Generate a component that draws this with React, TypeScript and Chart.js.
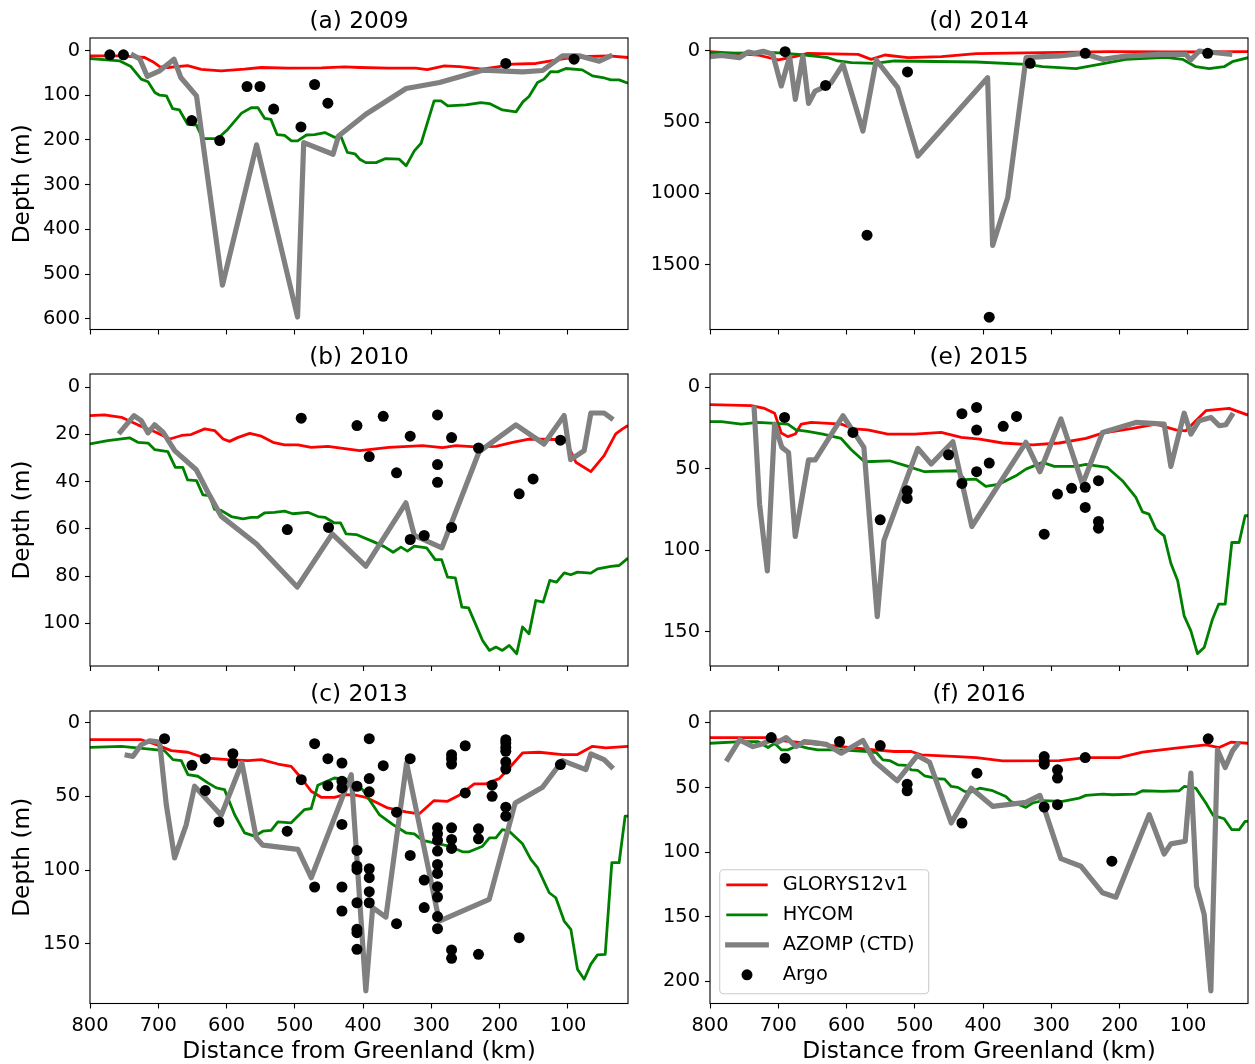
import React, { useEffect, useRef } from 'react';
import { Chart, registerables } from 'chart.js';

Chart.register(...registerables);

type Pt = [number, number];

// ---------- x axis (distance from Greenland, km) ----------
const xTicks = [100, 200, 300, 400, 500, 600, 700, 800];
const xMin = 12;
const xMax = 800;

// ---------- (a) 2009 ----------
const glorys2009: Pt[] = [[800,12],[754,12],[720,15.6],[708,25],[698,36],[686,38],[657,34],[637,42],[608,45.5],[574,41.7],[549,38],[510,39.5],[461,38.7],[427,36.5],[405,38],[362,39.5],[323,39.5],[306,42.5],[281,34.3],[259,35.8],[225,41.7],[201,35.8],[181,30.5],[147,29],[127,23.8],[103,17.8],[69,13.4],[40,11.9],[12,15.6]];
const hycom2009: Pt[] = [[800,17.8],[757,23],[740,35.8],[725,64],[715,70],[705,94],[698,100],[688,101.4],[679,130],[669,133],[657,165],[644,167],[635,197],[613,197],[598,176],[578,140],[564,128],[554,128],[544,152],[535,154],[526,188],[515,190],[505,202],[496,202],[483,189],[471,188],[456,183.5],[442,194],[432,194],[423,228],[412,231],[405,243],[396,250.7],[381,250.7],[367,241.7],[347,243],[337,258],[325,224.5],[315,207.4],[296,112.6],[286,112.6],[276,124],[249.5,121.6],[227.5,116.4],[215,118.6],[196,132.8],[176,137.3],[166,114.9],[157,102.9],[144.5,71.6],[135,64],[125,47],[115,47.7],[103,40.2],[79,43.2],[64,56.7],[49,60.4],[37,65.6],[25,65.6],[12,73]];
const azomp2009: Pt[] = [[740,8],[727,19],[716,58],[698,45.5],[677,19.3],[667,60.4],[644,101.4],[606,525],[556,211],[496,596],[487,206],[444,232],[436,191],[396,142.5],[337,85],[288,71.6],[225,44],[166.5,47.7],[137,44.7],[108,11.9],[83.5,11.9],[69,17.8],[54,23.8],[35,10.4]];
const argo2009: Pt[] = [[771,9.6],[751,9.6],[651,156.7],[610,201.4],[570,80.5],[551,80.5],[531,131],[491,170.8],[471,76],[451.6,117.9],[191,29],[91,19.3]];
const yTicks2009 = [0, 100, 200, 300, 400, 500, 600];

// ---------- (b) 2010 ----------
const glorys2010: Pt[] = [[800,12.1],[779,11.8],[754,12.8],[730,16],[705,18.9],[683,22],[666,20.5],[652,20.1],[632,17.7],[617.5,18.4],[605,22],[595.6,23],[583,21.3],[566,19.6],[549,20.8],[532,23.4],[515,24.5],[495.5,24.5],[476,25.5],[451.6,25.1],[405,26.9],[362,25.5],[313,24.8],[283.6,25.6],[264,24.8],[235,25.3],[205.5,25.1],[181,23.4],[157,22],[118,22.2],[103,22.7],[88.4,31.8],[66.4,35.8],[47,29],[30,19.8],[20,17.7],[12,16.3]];
const hycom2010: Pt[] = [[800,24.1],[774,22.7],[742,21.5],[730,23.4],[715,23.7],[705,26.5],[686,27.3],[675,34],[664,34],[657,39.3],[644,39.6],[634.6,45.6],[625,45.9],[617.5,51.8],[608,52.2],[593,54.8],[576,55.8],[564,55.1],[554,55.1],[544,53.2],[530,53],[515,52.5],[503,53.6],[481,53],[466,54.8],[456,55.1],[442,57.5],[433,57.5],[425,62.1],[410,62.4],[386,65.3],[369,67.5],[356,69.9],[344.6,67.7],[335,69.4],[325,67.3],[307,68],[294.4,73],[285,73],[276.3,80.4],[265,80.7],[255.3,93.1],[245.5,93.4],[225,107.2],[215,111.4],[205.5,110],[196,111.4],[186,109.3],[175,112.8],[166.5,101.5],[157,104.4],[147,90.3],[136.2,91],[126.5,81.8],[116.7,82.5],[105.5,78.6],[95.7,79.4],[86,78.3],[66.4,78.7],[56.7,76.9],[37,75.9],[25,75.5],[12,72.4]];
const azomp2010: Pt[] = [[758,19.8],[735.6,12.1],[725,14.2],[715,19.4],[705.4,16],[693,19.1],[676,26.9],[644.4,35],[627.3,44.5],[608,54.6],[556.5,66.3],[496.5,84.6],[445.3,62.1],[396,75.8],[337.3,49],[325,62.8],[284.6,68],[230,27.3],[176.2,16],[135,24.1],[105.5,12.1],[96,30.7],[76.2,26.9],[66.4,11],[47,11],[33.7,13.8]];
const argo2010: Pt[] = [[490.6,13.2],[409,16.3],[511,60.3],[450.6,59.4],[391,29.4],[370.5,12.4],[351,36.3],[331,20.8],[291,11.8],[291,32.8],[291,40.3],[270.4,21.4],[231,25.8],[331,64.5],[310.5,62.8],[270.4,59.4],[171.4,45.2],[151,38.9],[111,22.5]];
const yTicks2010 = [0, 20, 40, 60, 80, 100];

// ---------- (c) 2013 ----------
const glorys2013: Pt[] = [[800,11.5],[725,11.5],[705.4,14.4],[681,18.9],[656.6,20],[632,23.9],[598,25],[568.7,25.7],[549,25],[524.8,28],[505.3,29.6],[490.6,37.5],[476,46.5],[461.4,50.6],[442,50.6],[427,48.8],[410,49.2],[396,50.6],[364,57.8],[337.3,60.5],[318,61.9],[296,52.8],[276.3,53.3],[259.2,49.2],[237.2,41.5],[220.2,41.5],[200.6,37.9],[186,30.7],[166.5,20.5],[142,20],[108,21.6],[86,21.6],[64,16],[44.5,17.1],[12,16]];
const hycom2013: Pt[] = [[800,16.7],[754,16],[720,17.6],[691,18.9],[678.5,25],[666.3,25.7],[656.6,35.2],[642,36.3],[627.3,40.8],[615,44.2],[603,45.4],[588.3,62.3],[573.6,74.7],[559,77],[546.8,73.6],[534.6,73.1],[524.8,67.3],[505.3,67.9],[485.8,58.9],[476,58.2],[466.3,42.4],[442,37.5],[422.3,38.6],[410.5,42],[400.7,45.4],[376.3,62.3],[356.8,69],[337.3,74.7],[325,75.4],[313,79.9],[296,81.5],[274,83.8],[254.3,87.6],[244.6,87.6],[225,83.8],[215,78.1],[205.5,78.1],[196,72.5],[186,73.6],[166.5,82.2],[154.3,92.8],[144.5,98.4],[127.4,115.4],[117.7,118.8],[105.5,134.6],[95.7,140.2],[86,167.3],[76.2,174.1],[66.4,163.9],[56.7,157.6],[45.4,157.2],[35.7,95],[25,95],[16.2,63.4],[12,63.4]];
const azomp2013: Pt[] = [[749.3,21.7],[737.1,22.8],[725,14.9],[712.7,12.2],[698,13.1],[688.3,55.5],[676.1,91.7],[659,69.1],[646.8,43.1],[607.8,62.8],[577.5,27.3],[556.5,78.1],[546.8,83.1],[495.5,86],[476,105.2],[417.4,35.2],[396,182],[386,125.5],[366.6,131.9],[336.3,27.3],[288.5,134.6],[215.3,119.9],[177.2,54.4],[137.2,43.8],[108,25.7],[73.7,31.8],[66.4,21.2],[47,25],[33.7,31.1]];
const argo2013: Pt[] = [[690.8,10.8],[650.7,28.9],[631.2,24.4],[631.2,46],[611.2,67.3],[590.7,21],[590.7,27.3],[511.2,73.6],[490.6,38.6],[471,14.2],[471,111.5],[451.6,24.4],[451.6,42.7],[431,27.3],[431,39.7],[431,44.2],[431,69],[431,111.5],[431,127.8],[409,43.1],[409,86.7],[409,97.3],[409,99.6],[409,122.2],[409,140.2],[409,142.5],[409,153.8],[391,10.8],[391,37.9],[391,46.9],[391,99.1],[391,105.2],[391,114.7],[391,122.2],[370.5,29.1],[351,60.7],[351,136.4],[331,24.4],[331,90.1],[310.5,106.8],[310.5,125.5],[291,71.3],[291,75.4],[291,79.9],[291,87.1],[291,96.2],[291,102.3],[291,111.3],[291,118.3],[291,131.6],[291,139.8],[270.4,21.7],[270.4,24.4],[270.4,28],[270.4,71.3],[270.4,79.2],[270.4,85.3],[270.4,154.2],[270.4,159.9],[250.4,15.6],[250.4,47.6],[231,72],[231,78.8],[231,157.2],[211,42.4],[211,49.9],[191,11.5],[191,13.7],[191,16.7],[191,19.4],[191,26.6],[191,31.4],[191,57.3],[191,63.4],[171.4,145.9],[111,28.4]];
const yTicks2013 = [0, 50, 100, 150];

// ---------- (d) 2014 ----------
const glorys2014: Pt[] = [[800,6.8],[730,30],[700,65],[676,42],[657,18.5],[583,25.5],[564,60.5],[544,30],[510,49],[461,42],[410,20],[313,14],[215,7],[118,9],[12,7]];
const hycom2014: Pt[] = [[800,18.5],[705,14],[661,30],[627,49],[613,72],[593,84],[559,89],[530,72],[410,79],[337,96],[313,112],[264,126],[230,96],[191,60.5],[132,46.5],[108,60.5],[88.5,112],[69,126],[47,112],[35,77],[12,49]];
const azomp2014: Pt[] = [[800,42],[783,32.5],[757,49],[744,9],[735,18.5],[722,4.5],[708,25.5],[695.6,247],[683.4,42],[675,341],[664,37],[655.6,369],[646,282.5],[634.6,259],[622.4,224],[605.3,95.6],[576,563],[556.5,65],[525,259],[495.5,738],[393.4,189],[386,1364],[364,1030],[337,49],[313,42],[288.5,37],[254.3,18.5],[225,60.5],[191,37],[142,25.5],[103,25.5],[96,65],[83.5,2],[35,25.5]];
const argo2014: Pt[] = [[690,6.8],[630.7,243],[570,1292],[510.7,149],[391,1867],[331,88.6],[250.4,18.5],[71,18.5]];
const yTicks2014 = [0, 500, 1000, 1500];

// ---------- (e) 2015 ----------
const glorys2015: Pt[] = [[800,10.8],[739.6,11.4],[720,13.1],[705.4,16],[695.6,28.2],[686,30.4],[675,28.8],[666.3,22.7],[651.7,21.7],[607.8,22.7],[588.3,25.7],[569,26.2],[539.5,28.8],[500.4,28.8],[461.4,27.8],[432,30.9],[405,31.9],[371.5,34.3],[327.5,35.4],[288.5,34.3],[249.4,31.5],[225,28.2],[181,25.3],[147,22.7],[117.7,26.2],[103,26.8],[73.7,14.5],[39.6,13.1],[12,17.2]];
const hycom2015: Pt[] = [[800,21.2],[783.5,21.2],[754,22.7],[730,21.7],[686,22.7],[674,26.2],[657,27.2],[634.6,28.8],[608,31.5],[593,38.4],[573.6,45.8],[537,45.2],[510,48.6],[485.8,51.9],[437,51.3],[427,56.8],[410.5,56.4],[396,60.9],[376,59.5],[352,54.4],[337.3,50.3],[313,46.2],[295.8,48.6],[264,48.6],[249.4,47.4],[218,49.3],[196,57.4],[176.2,67.7],[166.5,76.5],[157,77.9],[147,87.1],[134.8,91.2],[125,108],[115,118.8],[105.5,140.3],[95.7,149.5],[86,163.4],[76.2,159.7],[64,142.3],[55,133.1],[45.4,133.1],[35.7,95.3],[25,95.3],[16.2,78.9],[12,78.9]];
const azomp2015: Pt[] = [[735.6,11.4],[727.4,71.8],[716,112.7],[705.4,22.7],[694.7,37],[685,40.1],[675.1,91.6],[655.6,44.6],[645.8,44.6],[605.3,17.6],[574.6,37],[555,140.7],[545.3,94.2],[495.5,37.6],[476,47.2],[444.3,33.5],[416.5,85.5],[337.3,33.9],[316.8,51.9],[286,19.6],[254.3,59.5],[225,27.8],[176.2,21.7],[134.8,22.7],[125,48.6],[105.5,16],[95.7,28.8],[83.5,20.6],[66.4,18.6],[54.2,23.7],[44.5,23.1],[33.7,16]];
const argo2015: Pt[] = [[690.8,18.6],[590.7,27.8],[550.7,81.4],[511.2,63.6],[511.2,68.3],[450.6,41.5],[431,16.3],[431,59.1],[409.5,12.5],[409.5,26.4],[409.5,51.9],[391,46.6],[370.5,24.1],[351,18],[310.5,90.2],[291,65.6],[270.4,62.1],[250.4,61.5],[250.4,73.8],[231,57.4],[231,82.4],[231,86.5]];
const yTicks2015 = [0, 50, 100, 150];

// ---------- (f) 2016 ----------
const glorys2016: Pt[] = [[800,11.3],[717.6,11.3],[695.6,13.6],[657,15.7],[608,18.3],[559,20.8],[530,22.1],[505.3,22.1],[490.6,24.7],[437,26],[410,26.8],[371.5,29.3],[288.5,29.1],[249.4,26.8],[200.6,26.8],[166.5,22.6],[117.7,19.5],[73.7,17],[54.2,19],[37.2,14.9],[12,15.7]];
const hycom2016: Pt[] = [[800,15.7],[754,14.4],[730,14.4],[715,19],[705.4,15.7],[695.6,20.8],[686,20.8],[671.2,17.5],[657,19.5],[642,20.8],[608,20.8],[569,22.1],[556.5,22.9],[546.8,28.6],[537,29.1],[525,32.4],[512.6,32.9],[505.3,36.3],[495.5,36.8],[485.8,40.9],[466.3,43.2],[456.5,43.5],[446.7,49.2],[437,49.9],[427.2,53],[417.4,53.5],[405,50.5],[386,52.5],[366.6,56.9],[359.3,60.8],[337.3,65.4],[327.5,62],[313,60.2],[283.6,60.8],[259.2,58.2],[249.4,56.1],[225,55.1],[210.4,55.6],[176.2,55.1],[166.5,52.5],[137.2,53],[112.8,52.5],[105.5,49.2],[88.4,50.5],[73.7,62],[63,71.6],[46.9,74.2],[35.7,82.7],[25,82.7],[16.2,76.2],[12,76.2]];
const azomp2016: Pt[] = [[776.2,29.8],[756.6,13.1],[737.1,18.3],[724.9,16.5],[711.2,13.1],[700.5,14.9],[688.3,11.3],[673.7,18.3],[661.5,14.4],[646.8,15.2],[629.7,16.5],[607.8,23.4],[576,13.6],[559,29.8],[525.8,44.8],[496.5,25.2],[478.5,30.4],[446.7,77.5],[417.4,50.5],[386,64.6],[337.3,61.5],[316.8,56.1],[286,105.1],[256.8,111],[225,131.6],[205.5,135],[156.7,71],[134.8,101.5],[125,93.7],[104,91.7],[95.7,38.9],[87.4,126.5],[76.2,148.3],[66.4,207.6],[56.7,20.8],[45.4,34.5],[34.7,21.6],[25,14.9]];
const argo2016: Pt[] = [[710.3,11.3],[690,27.3],[610.3,14.4],[550.7,17.5],[511.2,47.4],[511.2,52.5],[431,77.5],[409,38.9],[310.5,26],[310.5,29.8],[310.5,31.9],[291,36.3],[291,42.7],[310.5,65.1],[291,63.3],[250.4,26.8],[211.4,107.1],[70.3,12.3]];
const yTicks2016 = [0, 50, 100, 150, 200];

// ---------- labels ----------
const LABEL_GLORYS = 'GLORYS12v1';
const LABEL_HYCOM = 'HYCOM';
const LABEL_AZOMP = 'AZOMP (CTD)';
const LABEL_ARGO = 'Argo';
const legendOrder = [LABEL_GLORYS, LABEL_HYCOM, LABEL_AZOMP, LABEL_ARGO];
const xTitle = 'Distance from Greenland (km)';
const yTitle = 'Depth (m)';

const FONT = 'DejaVu Sans';
const TICK_SIZE = 19.4;
const LABEL_SIZE = 23.3;

interface PanelDef {
  title: string; col: number; row: number;
  glorys: Pt[]; hycom: Pt[]; azomp: Pt[]; argo: Pt[];
  yMin: number; yMax: number; yTicks: number[]; legend?: boolean;
}

const panels: PanelDef[] = [
  { title: '(a) 2009', col: 0, row: 0, glorys: glorys2009, hycom: hycom2009, azomp: azomp2009, argo: argo2009, yMin: -28, yMax: 624, yTicks: yTicks2009 },
  { title: '(b) 2010', col: 0, row: 1, glorys: glorys2010, hycom: hycom2010, azomp: azomp2010, argo: argo2010, yMin: -5.5, yMax: 118, yTicks: yTicks2010 },
  { title: '(c) 2013', col: 0, row: 2, glorys: glorys2013, hycom: hycom2013, azomp: azomp2013, argo: argo2013, yMin: -8, yMax: 190.6, yTicks: yTicks2013 },
  { title: '(d) 2014', col: 1, row: 0, glorys: glorys2014, hycom: hycom2014, azomp: azomp2014, argo: argo2014, yMin: -89, yMax: 1953, yTicks: yTicks2014 },
  { title: '(e) 2015', col: 1, row: 1, glorys: glorys2015, hycom: hycom2015, azomp: azomp2015, argo: argo2015, yMin: -8, yMax: 171, yTicks: yTicks2015 },
  { title: '(f) 2016', col: 1, row: 2, glorys: glorys2016, hycom: hycom2016, azomp: azomp2016, argo: argo2016, yMin: -9.3, yMax: 217.4, yTicks: yTicks2016, legend: true },
];

const COLS = [
  { canvasLeft: 0, canvasWidth: 640, areaLeft: 90, areaRight: 628 },
  { canvasLeft: 640, canvasWidth: 615, areaLeft: 710, areaRight: 1248 },
];
const ROWS = [
  { canvasTop: 0, canvasBottom: 355, areaTop: 38, areaBottom: 329.5 },
  { canvasTop: 336, canvasBottom: 690, areaTop: 374, areaBottom: 666 },
  { canvasTop: 673, canvasBottom: 1064, areaTop: 711, areaBottom: 1003.5 },
];

const framePlugin = {
  id: 'frame',
  afterDraw(chart: any) {
    const { ctx, chartArea: a } = chart;
    ctx.save();
    ctx.strokeStyle = '#000';
    ctx.lineWidth = 1.1;
    ctx.strokeRect(a.left, a.top, a.right - a.left, a.bottom - a.top);
    ctx.restore();
  },
};

const legendPlugin = {
  id: 'boxLegend',
  afterDraw(chart: any) {
    const { ctx, chartArea: a } = chart;
    const bw = 209, bh = 124;
    const bx = a.left + 9.7;
    const by = a.bottom - 9.7 - bh;
    ctx.save();
    ctx.beginPath();
    const r = 4;
    ctx.moveTo(bx + r, by);
    ctx.lineTo(bx + bw - r, by);
    ctx.arcTo(bx + bw, by, bx + bw, by + r, r);
    ctx.lineTo(bx + bw, by + bh - r);
    ctx.arcTo(bx + bw, by + bh, bx + bw - r, by + bh, r);
    ctx.lineTo(bx + r, by + bh);
    ctx.arcTo(bx, by + bh, bx, by + bh - r, r);
    ctx.lineTo(bx, by + r);
    ctx.arcTo(bx, by, bx + r, by, r);
    ctx.closePath();
    ctx.fillStyle = 'rgba(255,255,255,0.8)';
    ctx.fill();
    ctx.strokeStyle = '#cccccc';
    ctx.lineWidth = 1.1;
    ctx.stroke();
    legendOrder.forEach((label, i) => {
      const ds = chart.data.datasets.find((d: any) => d.label === label);
      if (!ds) return;
      const cy = by + 15 + i * 30;
      if (ds.showLine) {
        ctx.strokeStyle = ds.borderColor;
        ctx.lineWidth = ds.borderWidth;
        ctx.lineCap = 'square';
        ctx.beginPath();
        ctx.moveTo(bx + 8, cy);
        ctx.lineTo(bx + 46.6, cy);
        ctx.stroke();
      } else {
        ctx.fillStyle = '#000';
        ctx.beginPath();
        ctx.arc(bx + 27.3, cy, 5.5, 0, Math.PI * 2);
        ctx.fill();
      }
      ctx.fillStyle = '#000';
      ctx.font = `${TICK_SIZE}px "${FONT}"`;
      ctx.textAlign = 'left';
      ctx.textBaseline = 'middle';
      ctx.fillText(label, bx + 63, cy);
    });
    ctx.restore();
  },
};

function Panel({ def }: { def: PanelDef }) {
  const ref = useRef<HTMLCanvasElement>(null);
  const col = COLS[def.col];
  const row = ROWS[def.row];
  const cw = col.canvasWidth;
  const ch = row.canvasBottom - row.canvasTop;

  useEffect(() => {
    if (!ref.current) return;
    const yW = col.areaLeft - col.canvasLeft;
    const padRight = col.canvasLeft + cw - col.areaRight;
    const titleH = row.areaTop - row.canvasTop;
    const xH = row.canvasBottom - row.areaBottom;
    const titleLine = LABEL_SIZE * 1.2;
    const bottomRow = def.row === 2;
    const leftCol = def.col === 0;
    const toXY = (arr: Pt[]) => arr.map(([x, y]) => ({ x, y }));

    const chart = new Chart(ref.current, {
      type: 'scatter',
      data: {
        datasets: [
          { label: LABEL_ARGO, data: toXY(def.argo), showLine: false, pointRadius: 5.5, pointBorderWidth: 0, backgroundColor: '#000', borderColor: '#000', pointBackgroundColor: '#000', order: 0 },
          { label: LABEL_AZOMP, data: toXY(def.azomp), showLine: true, pointRadius: 0, borderColor: '#808080', backgroundColor: '#808080', borderWidth: 5.2, borderJoinStyle: 'round', tension: 0, order: 1 },
          { label: LABEL_HYCOM, data: toXY(def.hycom), showLine: true, pointRadius: 0, borderColor: '#008000', backgroundColor: '#008000', borderWidth: 2.8, borderJoinStyle: 'round', tension: 0, order: 2 },
          { label: LABEL_GLORYS, data: toXY(def.glorys), showLine: true, pointRadius: 0, borderColor: '#ff0000', backgroundColor: '#ff0000', borderWidth: 2.8, borderJoinStyle: 'round', tension: 0, order: 3 },
        ],
      } as any,
      options: {
        responsive: false,
        animation: false,
        events: [],
        layout: { padding: { left: 0, right: padRight, top: 0, bottom: 0 } },
        plugins: {
          legend: { display: false },
          tooltip: { enabled: false },
          title: {
            display: true,
            text: def.title,
            fullSize: false,
            color: '#000',
            font: { family: FONT, size: LABEL_SIZE, weight: 'normal' },
            padding: { top: 8, bottom: titleH - 8 - titleLine },
          },
        },
        scales: {
          x: {
            type: 'linear',
            reverse: true,
            min: xMin,
            max: xMax,
            afterFit: (s: any) => { s.height = xH; },
            afterBuildTicks: (s: any) => { s.ticks = xTicks.map((v) => ({ value: v })); },
            ticks: {
              display: bottomRow,
              autoSkip: false,
              maxRotation: 0,
              minRotation: 0,
              padding: 6,
              color: '#000',
              font: { family: FONT, size: TICK_SIZE },
              callback: (v: any) => String(v),
            },
            grid: { display: true, drawOnChartArea: false, drawTicks: true, tickLength: 5, tickWidth: 1.1, color: '#000', tickColor: '#000' },
            border: { display: false },
            title: {
              display: bottomRow,
              text: xTitle,
              color: '#000',
              font: { family: FONT, size: LABEL_SIZE },
              padding: { top: 0, bottom: -2 },
            },
          },
          y: {
            type: 'linear',
            reverse: true,
            min: def.yMin,
            max: def.yMax,
            afterFit: (s: any) => { s.width = yW; },
            afterBuildTicks: (s: any) => { s.ticks = def.yTicks.map((v) => ({ value: v })); },
            ticks: {
              autoSkip: false,
              padding: 5,
              color: '#000',
              font: { family: FONT, size: TICK_SIZE },
              callback: (v: any) => String(v),
            },
            grid: { display: true, drawOnChartArea: false, drawTicks: true, tickLength: 5, tickWidth: 1.1, color: '#000', tickColor: '#000' },
            border: { display: false },
            title: {
              display: leftCol,
              text: yTitle,
              color: '#000',
              font: { family: FONT, size: LABEL_SIZE },
              padding: { top: 9, bottom: 0 },
            },
          },
        },
      } as any,
      plugins: def.legend ? [framePlugin, legendPlugin] : [framePlugin],
    });
    return () => chart.destroy();
  }, []);

  return (
    <canvas
      ref={ref}
      width={cw}
      height={ch}
      style={{ position: 'absolute', left: col.canvasLeft, top: row.canvasTop, width: cw, height: ch }}
    />
  );
}

export default function App() {
  Chart.defaults.font.family = FONT;
  Chart.defaults.color = '#000';
  return (
    <div style={{ position: 'absolute', left: 0, top: 0, width: 1255, height: 1064, background: '#fff' }}>
      {panels.map((p) => (
        <Panel key={p.title} def={p} />
      ))}
    </div>
  );
}
